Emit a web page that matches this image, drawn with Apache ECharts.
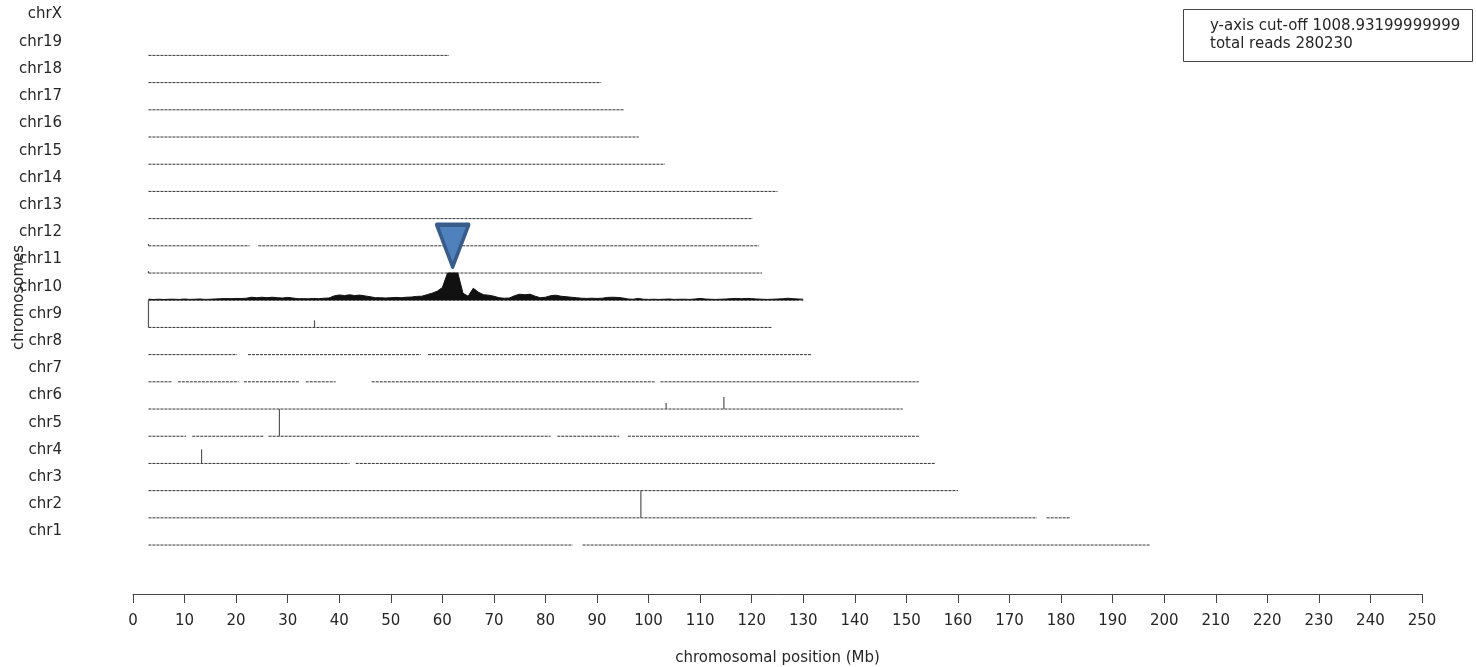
<!DOCTYPE html>
<html>
<head>
<meta charset="utf-8">
<script src="https://cdn.jsdelivr.net/npm/echarts@6/dist/echarts.min.js"></script>
<style>
    html, body {margin: 0; padding: 0; background: #fff;}
    #chart {width: 1476px; height: 667px;}
</style>
</head>
<body>
<div id="chart"></div>
<script>
// 染色体顺序, 从下到上
const chromosomes = ['chr1', 'chr2', 'chr3', 'chr4', 'chr5', 'chr6', 'chr7', 'chr8', 'chr9', 'chr10',
    'chr11', 'chr12', 'chr13', 'chr14', 'chr15', 'chr16', 'chr17', 'chr18', 'chr19', 'chrX'];

// 有 reads 覆盖的区段 (Mb)
const coveredSegments = [
    [[3, 85.3], [87.2, 197.2]],
    [[3, 175.3], [177.2, 181.7]],
    [[3, 160]],
    [[3, 42], [43.2, 155.5]],
    [[3, 10.3], [11.5, 25.3], [26.3, 81], [82.3, 94.3], [96, 152.4]],
    [[3, 149.3]],
    [[3, 7.6], [8.7, 20.5], [21.5, 32.2], [33.5, 39.3], [46.3, 101.2], [102.3, 152.4]],
    [[3, 20.2], [22.3, 55.8], [57.2, 131.7]],
    [[3, 124]],
    [[3, 130]],
    [[3, 122]],
    [[3, 22.6], [24.3, 121.4]],
    [[3, 120.2]],
    [[3, 125]],
    [[3, 103.2]],
    [[3, 98.1]],
    [[3, 95.2]],
    [[3, 90.8]],
    [[3, 61.3]],
    []
];

// 单点尖峰: [染色体, 位置Mb, reads]
const spikes = [
    ['chr9', 3.0, 1009],
    ['chr9', 35.2, 260],
    ['chr6', 103.4, 220],
    ['chr6', 114.6, 445],
    ['chr5', 28.4, 1009],
    ['chr4', 13.3, 520],
    ['chr2', 98.5, 1009],
    ['chr12', 3.0, 70],
    ['chr11', 3.0, 70]
];

// chr10 每 1Mb 的 reads (3..130 Mb)
const chr10Start = 3;
const chr10Reads = [
    37, 26, 37, 26, 37, 37, 30, 45, 30, 37,
    45, 30, 37, 48, 56, 63, 56, 67, 63, 74,
    111, 93, 111, 93, 111, 93, 82, 104, 82, 56,
    59, 52, 67, 56, 74, 82, 160, 195, 175, 200,
    175, 190, 160, 130, 93, 93, 82, 93, 104, 93,
    111, 119, 141, 148, 204, 260, 334, 470, 1009, 1009,
    1009, 260, 148, 445, 297, 204, 185, 148, 93, 74,
    82, 167, 223, 204, 223, 148, 93, 111, 167, 185,
    148, 130, 111, 93, 74, 67, 74, 67, 74, 104,
    111, 104, 82, 45, 37, 67, 37, 30, 37, 30,
    37, 45, 30, 37, 37, 30, 45, 67, 45, 37,
    30, 37, 45, 59, 67, 56, 67, 59, 45, 37,
    30, 37, 45, 56, 74, 56, 45, 37
];

// 标记位置 [Mb, 行]
const markerPoint = [62, 11];

const cutoff = 1008.93199999999;
const totalReads = 280230;
const xTicks = {min: 0, max: 250, step: 10};

// ---------- 构造 series ----------
const font = 'DejaVu Sans, sans-serif';
const textColor = '#262626';

function rowOf(name){
    return chromosomes.indexOf(name);
}

let series = [];

coveredSegments.forEach((segs, row) => {
    if(segs.length <= 0) return;
    let data = [];
    segs.forEach((s, i) => {
        if(i > 0) data.push([s[0], '-']);
        data.push([s[0], row]);
        data.push([s[1], row]);
    });
    series.push({
        type: 'line',
        data: data,
        symbol: 'none',
        connectNulls: false,
        silent: true,
        lineStyle: {color: '#333', width: 1, type: [3, 1]},
        z: 2
    });
});

// chr10 覆盖曲线
let row10 = rowOf('chr10');
series.push({
    type: 'line',
    data: chr10Reads.map((v, i) => [chr10Start + i, row10 + Math.min(v, cutoff) / cutoff]),
    symbol: 'none',
    silent: true,
    lineStyle: {color: '#111', width: 1},
    areaStyle: {color: '#111', opacity: 1, origin: row10},
    z: 3
});

// 尖峰
series.push({
    type: 'custom',
    silent: true,
    data: spikes.map(s => [s[1], rowOf(s[0]), rowOf(s[0]) + Math.min(s[2], cutoff) / cutoff]),
    renderItem: function(params, api){
        let p0 = api.coord([api.value(0), api.value(1)]);
        let p1 = api.coord([api.value(0), api.value(2)]);
        return {
            type: 'line',
            shape: {x1: p0[0], y1: p0[1], x2: p1[0], y2: p1[1]},
            style: {stroke: '#555', lineWidth: 1.2}
        };
    },
    z: 4
});

// 倒三角标记
series.push({
    type: 'scatter',
    data: [markerPoint],
    symbol: 'triangle',
    symbolRotate: 180,
    symbolSize: [32, 42],
    silent: true,
    itemStyle: {color: '#4f81bd', borderColor: '#385d8a', borderWidth: 4, borderJoin: 'round', opacity: 1},
    z: 10
});

let labelValues = chromosomes.map((c, i) => i + 0.5);

let option = {
    animation: false,
    textStyle: {fontFamily: font},
    grid: {left: 133, right: 54, top: 1, bottom: 73, containLabel: false, outerBoundsMode: 'none'},
    xAxis: {
        type: 'value',
        min: xTicks.min,
        max: xTicks.max,
        interval: xTicks.step,
        name: 'chromosomal position (Mb)',
        nameLocation: 'middle',
        nameGap: 57,
        nameMoveOverlap: false,
        nameTextStyle: {fontSize: 15, color: textColor, fontFamily: font},
        axisLine: {show: true, onZero: false, lineStyle: {color: '#444', width: 1}},
        axisTick: {show: true, length: 9, lineStyle: {color: '#444'}},
        axisLabel: {fontSize: 15, color: textColor, margin: 20, fontFamily: font},
        splitLine: {show: false}
    },
    yAxis: {
        type: 'value',
        min: -1.8,
        max: 20,
        name: 'chromosomes',
        nameLocation: 'middle',
        nameGap: 106,
        nameMoveOverlap: false,
        nameTextStyle: {fontSize: 15, color: textColor, fontFamily: font},
        axisLine: {show: false},
        axisTick: {show: false},
        splitLine: {show: false},
        axisLabel: {
            customValues: labelValues,
            fontSize: 15,
            color: textColor,
            margin: 71,
            fontFamily: font,
            formatter: function(v){
                let i = Math.round(v - 0.5);
                return chromosomes[i] || '';
            }
        }
    },
    graphic: [
        {
            type: 'rect',
            left: 1183,
            top: 9,
            shape: {width: 289, height: 52},
            style: {fill: '#fff', stroke: '#444', lineWidth: 1},
            z: 20
        },
        {
            type: 'text',
            left: 1210,
            top: 17,
            style: {
                text: 'y-axis cut-off ' + cutoff + '\ntotal reads ' + totalReads,
                font: '15px ' + font,
                fill: textColor,
                lineHeight: 18
            },
            z: 21
        }
    ],
    series: series
};

echarts.init(document.getElementById('chart')).setOption(option);
</script>
</body>
</html>
